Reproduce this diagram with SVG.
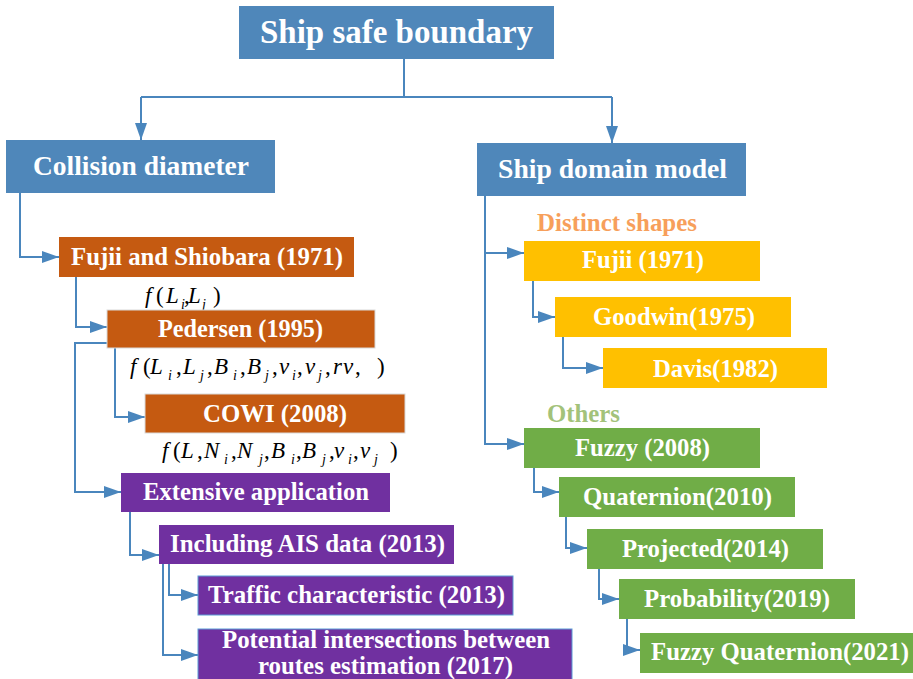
<svg xmlns="http://www.w3.org/2000/svg" width="913" height="679" viewBox="0 0 913 679">
<defs>
<marker id="arr" markerUnits="userSpaceOnUse" markerWidth="18" markerHeight="12" refX="17" refY="6" orient="auto">
<path d="M0,0 L17,6 L0,12 Z" fill="#4A86BD"/>
</marker>
</defs>
<style>
.blue{fill:#4F87BA}
.orange{fill:#C55A11}
.purple{fill:#7030A0}
.gold{fill:#FFC000}
.green{fill:#70AD47}
.lbl{font-family:"Liberation Serif","Times New Roman",serif;font-weight:bold;fill:#fff;text-anchor:middle}
.big{font-size:33px}
.mid{font-size:27px}
.sm{font-size:24.5px}
.cap{font-family:"Liberation Serif","Times New Roman",serif;font-weight:bold;font-size:25px}
.fx{font-family:"Liberation Serif","Times New Roman",serif;font-size:23px;fill:#000}
.fx .i{font-style:italic}
.fx .s{font-style:italic;font-size:14px}
.conn path{fill:none;stroke:#4A86BD;stroke-width:2}
</style>
<g class="conn">
<path d="M404,59 V97"/>
<path d="M141,97 H612"/>
<path d="M141,97 V140" marker-end="url(#arr)"/>
<path d="M612,97 V143" marker-end="url(#arr)"/>
<path d="M20,193 V257 H59" marker-end="url(#arr)"/>
<path d="M76,277 V327 H107" marker-end="url(#arr)"/>
<path d="M107,343 H75 V492 H121" marker-end="url(#arr)"/>
<path d="M115,348 V417 H145" marker-end="url(#arr)"/>
<path d="M130,512 V555 H159" marker-end="url(#arr)"/>
<path d="M169,564 V595 H198" marker-end="url(#arr)"/>
<path d="M163,564 V655 H198" marker-end="url(#arr)"/>
<path d="M485,196 V444 H524" marker-end="url(#arr)"/>
<path d="M485,253 H524" marker-end="url(#arr)"/>
<path d="M533,281 V317 H555" marker-end="url(#arr)"/>
<path d="M563,337 V368 H603" marker-end="url(#arr)"/>
<path d="M534,468 V492 H559" marker-end="url(#arr)"/>
<path d="M566,517 V548 H587" marker-end="url(#arr)"/>
<path d="M599,569 V599 H619" marker-end="url(#arr)"/>
<path d="M627,619 V650 H640" marker-end="url(#arr)"/>
</g>
<g id="root"><rect class="blue" x="239" y="6" width="315" height="53"/><text class="lbl big" x="396.5" y="43" textLength="273" lengthAdjust="spacingAndGlyphs">Ship safe boundary</text></g>
<g id="collision"><rect class="blue" x="6" y="140" width="269" height="53"/><text class="lbl mid" x="141" y="175" textLength="216" lengthAdjust="spacingAndGlyphs">Collision diameter</text></g>
<g id="domain"><rect class="blue" x="477" y="143" width="269" height="53"/><text class="lbl mid" x="612.5" y="178" textLength="229" lengthAdjust="spacingAndGlyphs">Ship domain model</text></g>
<g id="fujii-shiobara"><rect class="orange" x="59" y="237" width="295" height="40"/><text class="lbl sm" x="207" y="265" textLength="272" lengthAdjust="spacingAndGlyphs">Fujii and Shiobara (1971)</text></g>
<g id="f1"><text class="fx"><tspan class="i" x="145" y="303">f</tspan><tspan x="156" y="303">(</tspan><tspan class="i" x="166" y="303">L</tspan><tspan class="s" x="181" y="309">i</tspan><tspan x="184" y="303">,</tspan><tspan class="i" x="188" y="303">L</tspan><tspan class="s" x="202" y="309">j</tspan><tspan x="213" y="303">)</tspan></text></g>
<g id="pedersen"><rect class="orange" x="107" y="310" width="268" height="38" stroke="#D9D9D9" stroke-width="1"/><text class="lbl sm" x="240.5" y="337" textLength="165" lengthAdjust="spacingAndGlyphs">Pedersen (1995)</text></g>
<g id="f2"><text class="fx"><tspan class="i" x="130" y="374">f</tspan><tspan x="143" y="374">(</tspan><tspan class="i" x="150" y="374">L</tspan><tspan class="s" x="168" y="380">i</tspan><tspan x="176" y="374">,</tspan><tspan class="i" x="183" y="374">L</tspan><tspan class="s" x="200" y="380">j</tspan><tspan x="207" y="374">,</tspan><tspan class="i" x="214" y="374">B</tspan><tspan class="s" x="233" y="380">i</tspan><tspan x="240" y="374">,</tspan><tspan class="i" x="247" y="374">B</tspan><tspan class="s" x="265" y="380">j</tspan><tspan x="272" y="374">,</tspan><tspan class="i" x="279" y="374">v</tspan><tspan class="s" x="292" y="380">i</tspan><tspan x="297" y="374">,</tspan><tspan class="i" x="305" y="374">v</tspan><tspan class="s" x="318" y="380">j</tspan><tspan x="325" y="374">,</tspan><tspan class="i" x="333" y="374">r</tspan><tspan class="i" x="343" y="374">v</tspan><tspan x="355" y="374">,</tspan><tspan x="377" y="374">)</tspan></text></g>
<g id="cowi"><rect class="orange" x="145" y="394" width="260" height="39" stroke="#D9D9D9" stroke-width="1"/><text class="lbl sm" x="275" y="422" textLength="144" lengthAdjust="spacingAndGlyphs">COWI (2008)</text></g>
<g id="f3"><text class="fx"><tspan class="i" x="162" y="458">f</tspan><tspan x="173" y="458">(</tspan><tspan class="i" x="181" y="458">L</tspan><tspan x="197" y="458">,</tspan><tspan class="i" x="204" y="458">N</tspan><tspan class="s" x="224" y="464">i</tspan><tspan x="231" y="458">,</tspan><tspan class="i" x="237" y="458">N</tspan><tspan class="s" x="259" y="464">j</tspan><tspan x="264" y="458">,</tspan><tspan class="i" x="271" y="458">B</tspan><tspan class="s" x="291" y="464">i</tspan><tspan x="296" y="458">,</tspan><tspan class="i" x="302" y="458">B</tspan><tspan class="s" x="322" y="464">j</tspan><tspan x="329" y="458">,</tspan><tspan class="i" x="334" y="458">v</tspan><tspan class="s" x="348" y="464">i</tspan><tspan x="353" y="458">,</tspan><tspan class="i" x="360" y="458">v</tspan><tspan class="s" x="374" y="464">j</tspan><tspan x="390" y="458">)</tspan></text></g>
<g id="extensive"><rect class="purple" x="121" y="473" width="269" height="39"/><text class="lbl sm" x="256" y="500" textLength="226" lengthAdjust="spacingAndGlyphs">Extensive application</text></g>
<g id="ais"><rect class="purple" x="159" y="525" width="295" height="39"/><text class="lbl sm" x="307.5" y="552" textLength="275" lengthAdjust="spacingAndGlyphs">Including AIS data (2013)</text></g>
<g id="traffic"><rect class="purple" x="198" y="576" width="315" height="39" stroke="#5B9BD5" stroke-width="1"/><text class="lbl sm" x="356.5" y="603" textLength="297" lengthAdjust="spacingAndGlyphs">Traffic characteristic (2013)</text></g>
<g id="potential"><rect class="purple" x="198" y="629" width="374" height="62" stroke="#5B9BD5" stroke-width="1"/><text class="lbl sm" x="386" y="648" textLength="328" lengthAdjust="spacingAndGlyphs">Potential intersections between</text><text class="lbl sm" x="385.5" y="674" textLength="255" lengthAdjust="spacingAndGlyphs">routes estimation (2017)</text></g>
<g id="distinct"><text class="cap" x="537" y="231" fill="#F79F5B" textLength="160" lengthAdjust="spacingAndGlyphs">Distinct shapes</text></g>
<g id="fujii"><rect class="gold" x="524" y="241" width="236" height="40"/><text class="lbl sm" x="643" y="268" textLength="122" lengthAdjust="spacingAndGlyphs">Fujii (1971)</text></g>
<g id="goodwin"><rect class="gold" x="555" y="297" width="236" height="40"/><text class="lbl sm" x="674" y="325" textLength="162" lengthAdjust="spacingAndGlyphs">Goodwin(1975)</text></g>
<g id="davis"><rect class="gold" x="603" y="348" width="224" height="40"/><text class="lbl sm" x="715.5" y="377" textLength="125" lengthAdjust="spacingAndGlyphs">Davis(1982)</text></g>
<g id="others"><text class="cap" x="547" y="422" fill="#A3C27A" textLength="73" lengthAdjust="spacingAndGlyphs">Others</text></g>
<g id="fuzzy"><rect class="green" x="524" y="428" width="236" height="40"/><text class="lbl sm" x="642.5" y="456" textLength="135" lengthAdjust="spacingAndGlyphs">Fuzzy (2008)</text></g>
<g id="quaternion"><rect class="green" x="559" y="477" width="236" height="40"/><text class="lbl sm" x="677.5" y="505" textLength="189" lengthAdjust="spacingAndGlyphs">Quaternion(2010)</text></g>
<g id="projected"><rect class="green" x="587" y="529" width="236" height="40"/><text class="lbl sm" x="705.5" y="557" textLength="167" lengthAdjust="spacingAndGlyphs">Projected(2014)</text></g>
<g id="probability"><rect class="green" x="619" y="579" width="236" height="40"/><text class="lbl sm" x="737" y="607" textLength="186" lengthAdjust="spacingAndGlyphs">Probability(2019)</text></g>
<g id="fuzzyq"><rect class="green" x="640" y="633" width="273" height="40"/><text class="lbl sm" x="780" y="660" textLength="258" lengthAdjust="spacingAndGlyphs">Fuzzy Quaternion(2021)</text></g>
</svg>
